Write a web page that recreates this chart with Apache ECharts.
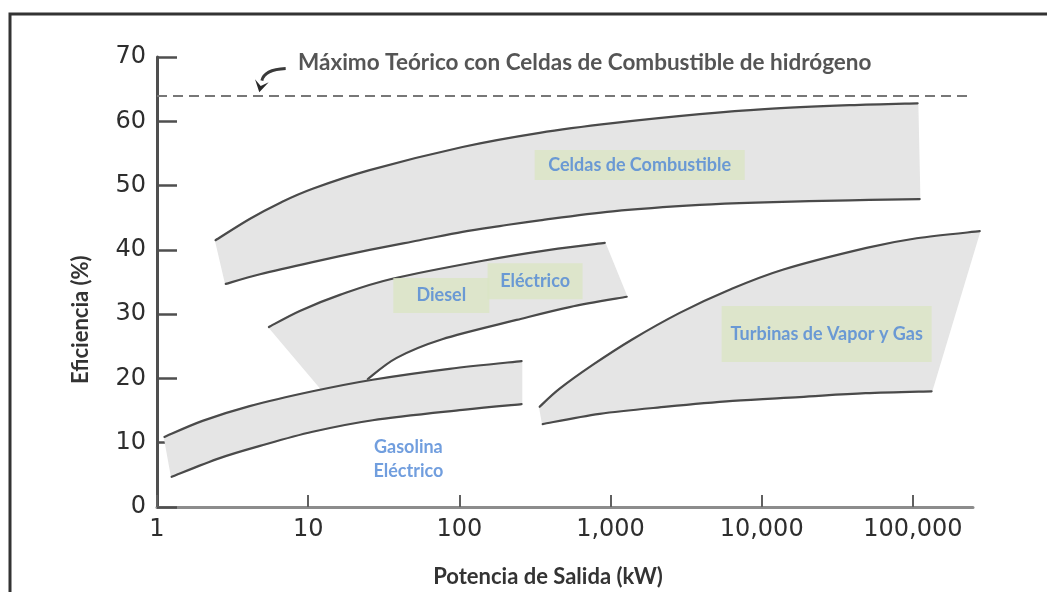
<!DOCTYPE html>
<html>
<head>
<meta charset="utf-8">
<script src="https://cdn.jsdelivr.net/npm/echarts@6/dist/echarts.min.js"></script>
<style>
  html, body { margin: 0; padding: 0; background: #ffffff; }
  #chart { width: 1047px; height: 592px; }
</style>
</head>
<body>
<div id="chart"></div>
<script>
// Eficiencia (%) frente a potencia de salida (kW), escala logarítmica en X
const xTickValues = [1, 10, 100, 1000, 10000, 100000];
const yTickMax = 70;
const theoreticalMax = 64;

// Celdas de combustible: borde superior e inferior [kW, %]
const fuelUpper = [[2.44, 41.5], [4.1, 44.8], [6.5, 47.3], [10.7, 49.5], [25.5, 52.4], [105, 56.0], [340, 58.2], [1035, 59.7], [3890, 61.1], [10470, 61.9], [38200, 62.5], [107500, 62.8]];
const fuelLower = [[2.85, 34.7], [4.8, 36.2], [10.7, 38.1], [25.5, 40.0], [54.6, 41.5], [105, 42.8], [185, 43.7], [340, 44.6], [1035, 46.0], [3890, 47.0], [10470, 47.4], [38200, 47.7], [111000, 47.9]];

// Diesel / Eléctrico (el pie se apoya sobre la banda de gasolina)
const dieselUpper = [[5.5, 28.0], [8.8, 30.5], [16.2, 33.0], [36, 35.5], [143, 38.3], [396, 40.0], [916, 41.1]];
const dieselLower = [[24.8, 19.9], [38.5, 23.2], [77, 26.1], [239, 29.1], [537, 31.1], [1280, 32.7]];
const dieselFoot = [12.3, 18.3];

// Gasolina / Eléctrico
const gasUpper = [[1.12, 10.9], [2.0, 13.4], [4.1, 15.7], [10.7, 18.0], [26.7, 19.8], [86, 21.5], [258, 22.7]];
const gasLower = [[1.25, 4.7], [2.6, 7.6], [4.8, 9.5], [10.7, 11.7], [26.7, 13.5], [105, 15.1], [258, 16.0]];

// Turbinas de vapor y gas
const turbineUpper = [[340, 15.6], [461, 18.4], [762, 22.1], [1400, 26.1], [2870, 30.2], [5870, 33.6], [13770, 36.9], [49400, 40.3], [106000, 41.8], [277000, 42.9]];
const turbineLower = [[356, 12.9], [848, 14.5], [2355, 15.6], [6430, 16.5], [17800, 17.1], [48600, 17.7], [133000, 18.0]];

// Rótulos de cada región y su punto de anclaje [kW, %]
const regionNames = ['Celdas de Combustible', 'Diesel', 'Eléctrico', 'Turbinas de Vapor y Gas', 'Gasolina\nEléctrico'];
const regionAnchors = [[1560, 53.2], [76, 32.9], [317, 35.1], [26900, 26.9], [46, 7.5]];

// Flecha que señala la línea del máximo teórico
const arrowFrom = [7.1, 68.2];
const arrowTo = [4.75, 64.5];

const bandFill = '#e5e5e5';
const edgeColor = '#4a4a4a';
const labelFont = 'Lato, "Open Sans", sans-serif';
const numberFont = '"DejaVu Sans", sans-serif';

// Catmull-Rom -> cubic Bezier through pixel points
function curveThrough(pts) {
  let d = '';
  for (let i = 0; i < pts.length - 1; i++) {
    const p0 = pts[i - 1] || pts[i];
    const p1 = pts[i];
    const p2 = pts[i + 1];
    const p3 = pts[i + 2] || pts[i + 1];
    const t = 1 / 6;
    const c1x = p1[0] + (p2[0] - p0[0]) * t, c1y = p1[1] + (p2[1] - p0[1]) * t;
    const c2x = p2[0] - (p3[0] - p1[0]) * t, c2y = p2[1] - (p3[1] - p1[1]) * t;
    d += ' C' + c1x + ',' + c1y + ' ' + c2x + ',' + c2y + ' ' + p2[0] + ',' + p2[1];
  }
  return d;
}

function bandSeries(name, upper, lower, foot) {
  return {
    type: 'custom',
    name: name,
    coordinateSystem: 'cartesian2d',
    silent: true,
    data: [upper[0]],
    renderItem: function (params, api) {
      const up = upper.map(p => api.coord(p));
      const lo = lower.map(p => api.coord(p));
      const loRev = lo.slice().reverse();
      let fillPath = 'M' + up[0].join(',') + curveThrough(up) +
        ' L' + loRev[0].join(',') + curveThrough(loRev);
      if (foot) fillPath += ' L' + api.coord(foot).join(',');
      fillPath += ' Z';
      return {
        type: 'group',
        children: [
          { type: 'path', shape: { pathData: fillPath }, style: { fill: bandFill, stroke: bandFill, lineWidth: 1.5 } },
          { type: 'path', shape: { pathData: 'M' + up[0].join(',') + curveThrough(up) }, style: { fill: 'none', stroke: edgeColor, lineWidth: 2.2, lineCap: 'round' } },
          { type: 'path', shape: { pathData: 'M' + lo[0].join(',') + curveThrough(lo) }, style: { fill: 'none', stroke: edgeColor, lineWidth: 2.2, lineCap: 'round' } }
        ]
      };
    }
  };
}

const boxStyles = [
  { width: 210, height: 30, backgroundColor: '#dbe5c4' },
  { width: 96, height: 35, backgroundColor: '#dbe5c4' },
  { width: 95, height: 36, backgroundColor: '#dbe5c4' },
  { width: 210, height: 56, backgroundColor: '#dbe5c4' },
  { width: 110, height: 48, backgroundColor: 'transparent', lineHeight: 24 }
];

const labelData = regionNames.map((name, i) => {
  const b = boxStyles[i];
  return {
    value: regionAnchors[i],
    name: name,
    label: {
      show: true,
      position: 'inside',
      formatter: name,
      width: b.width,
      height: b.height,
      lineHeight: b.lineHeight || b.height,
      backgroundColor: b.backgroundColor,
      align: 'center',
      verticalAlign: 'middle',
      color: '#4d86d6',
      fontFamily: labelFont,
      fontWeight: 'bold',
      fontSize: 18
    }
  };
});

const fmtThousands = v => String(Math.round(v)).replace(/\B(?=(\d{3})+(?!\d))/g, ',');

const chart = echarts.init(document.getElementById('chart'), null, { renderer: 'canvas' });
chart.setOption({
  animation: false,
  backgroundColor: '#ffffff',
  title: {
    text: 'Máximo Teórico con Celdas de Combustible de hidrógeno',
    left: 298,
    top: 51,
    padding: 0,
    textStyle: { color: '#555555', fontFamily: labelFont, fontWeight: 'bold', fontSize: 22.5 }
  },
  graphic: [
    {
      type: 'polyline',
      shape: { points: [[10, 592], [10, 14], [1047, 14]] },
      style: { stroke: '#333333', lineWidth: 3, fill: null },
      silent: true
    },
    {
      type: 'text',
      x: 70,
      y: 384,
      rotation: Math.PI / 2,
      style: { text: 'Eficiencia (%)', fill: '#333333', font: 'bold 22px ' + labelFont, textAlign: 'left', textVerticalAlign: 'top' },
      silent: true
    },
    {
      type: 'text',
      x: 548,
      y: 577,
      style: { text: 'Potencia de Salida (kW)', fill: '#333333', font: 'bold 22px ' + labelFont, textAlign: 'center', textVerticalAlign: 'middle' },
      silent: true
    }
  ],
  grid: { left: 157, right: 74, top: 57, bottom: 85, containLabel: false },
  xAxis: {
    type: 'log',
    logBase: 10,
    min: 1,
    max: 250000,
    axisLine: { show: true, lineStyle: { color: '#8c8c8c', width: 3 } },
    axisTick: { show: true, inside: true, length: 12, customValues: xTickValues, lineStyle: { color: '#606060', width: 2 } },
    axisLabel: {
      show: true,
      customValues: xTickValues,
      margin: 11,
      color: '#2e2e2e',
      fontFamily: numberFont,
      fontSize: 24,
      formatter: fmtThousands
    },
    splitLine: { show: false },
    minorTick: { show: false }
  },
  yAxis: {
    type: 'value',
    min: 0,
    max: yTickMax,
    interval: 10,
    axisLine: { show: true, lineStyle: { color: '#4f4f4f', width: 3 } },
    axisTick: { show: true, inside: true, length: 20, lineStyle: { color: '#4f4f4f', width: 2.5 } },
    axisLabel: { show: true, margin: 11, color: '#2e2e2e', fontFamily: numberFont, fontSize: 24 },
    splitLine: { show: false }
  },
  series: [
    bandSeries('Celdas de Combustible', fuelUpper, fuelLower),
    bandSeries('Diesel / Eléctrico', dieselUpper, dieselLower, dieselFoot),
    bandSeries('Gasolina / Eléctrico', gasUpper, gasLower),
    bandSeries('Turbinas de Vapor y Gas', turbineUpper, turbineLower),
    {
      type: 'line',
      name: 'Máximo teórico',
      data: [],
      silent: true,
      markLine: {
        silent: true,
        symbol: 'none',
        label: { show: false },
        lineStyle: { color: '#777777', width: 2, type: [10, 6] },
        data: [{ yAxis: theoreticalMax }]
      }
    },
    {
      // flecha curva: sale en horizontal y baja hasta la línea discontinua
      type: 'custom',
      name: 'flecha',
      coordinateSystem: 'cartesian2d',
      silent: true,
      data: [arrowFrom],
      z: 6,
      renderItem: function (params, api) {
        const a = api.coord(arrowFrom);
        const b = api.coord(arrowTo);
        const c = [b[0] + 5, a[1] + 1];
        const dx = b[0] - c[0], dy = b[1] - c[1];
        const len = Math.sqrt(dx * dx + dy * dy);
        const ux = dx / len, uy = dy / len;
        const hl = 12, hw = 7;
        const base = [b[0] - ux * hl, b[1] - uy * hl];
        return {
          type: 'group',
          children: [
            { type: 'path', shape: { pathData: 'M' + a.join(',') + ' Q' + c.join(',') + ' ' + base.join(',') }, style: { fill: 'none', stroke: '#3a3a3a', lineWidth: 3 } },
            { type: 'polygon', shape: { points: [b, [base[0] - uy * hw, base[1] + ux * hw], [b[0] - ux * hl * 0.55, b[1] - uy * hl * 0.55], [base[0] + uy * hw, base[1] - ux * hw]] }, style: { fill: '#2a2a2a' } }
          ]
        };
      }
    },
    {
      type: 'scatter',
      name: 'rótulos',
      silent: true,
      symbolSize: 1,
      itemStyle: { color: 'rgba(0,0,0,0)' },
      z: 5,
      data: labelData
    }
  ]
});
</script>
</body>
</html>
